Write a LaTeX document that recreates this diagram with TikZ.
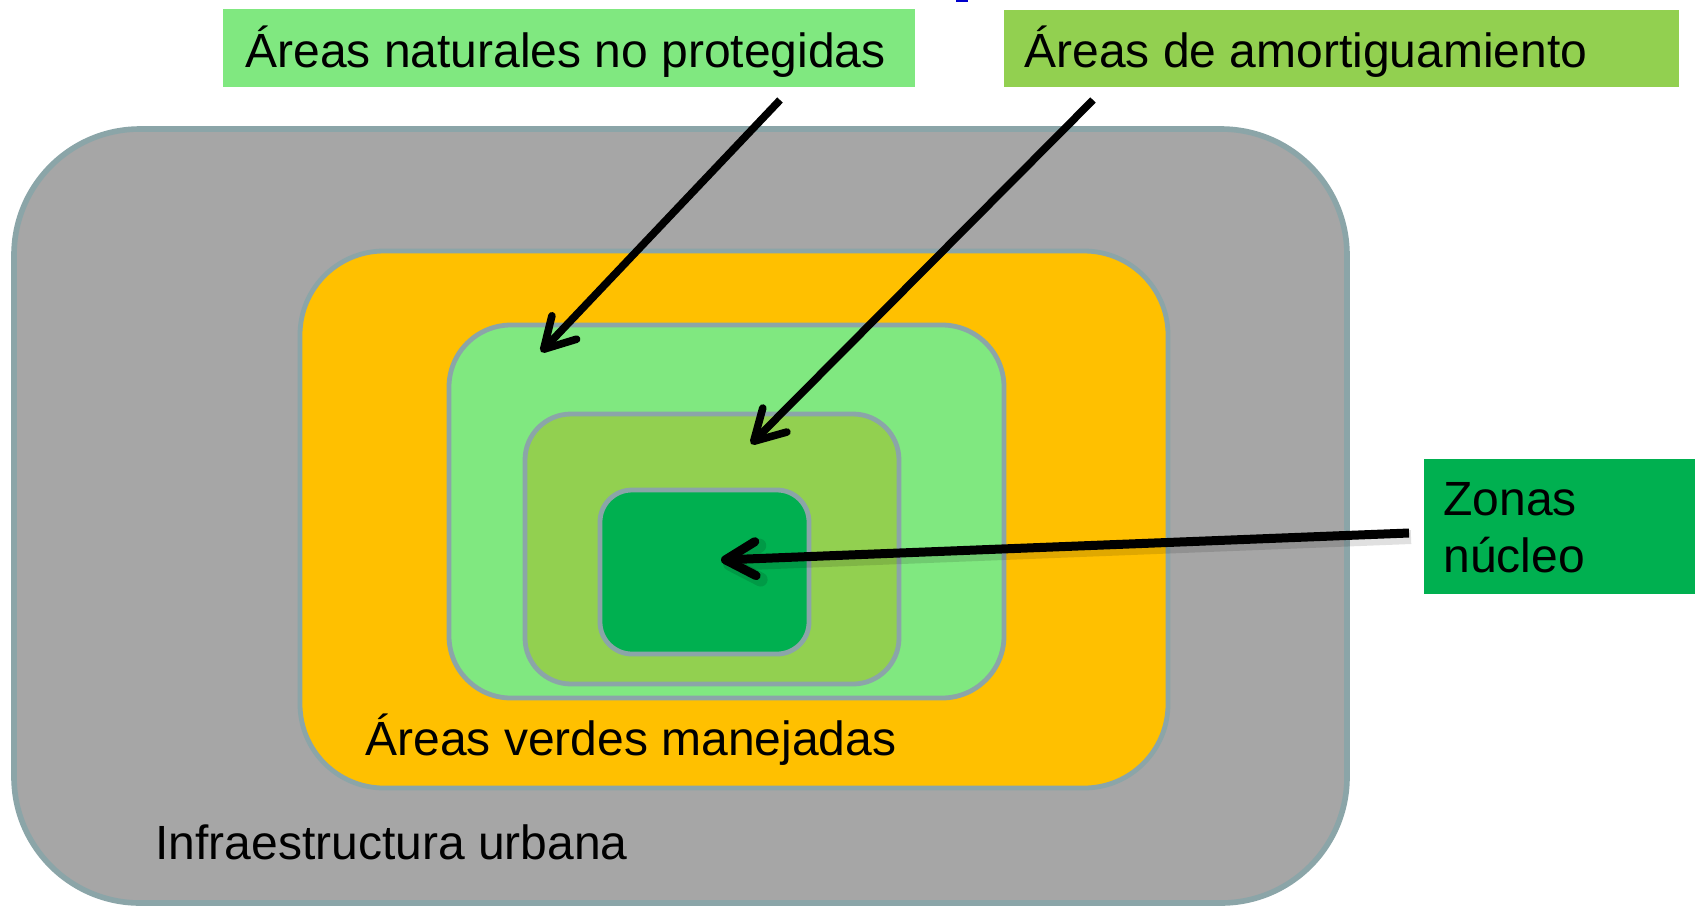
\documentclass[tikz,border=0pt]{standalone}
\usepackage{fontspec}
\setmainfont{Liberation Sans}
\usetikzlibrary{arrows.meta}
\definecolor{urbgray}{RGB}{166,166,166}
\definecolor{edgec}{RGB}{139,165,168}
\definecolor{orangez}{RGB}{255,192,0}
\definecolor{lgreen}{RGB}{128,232,128}
\definecolor{ogreen}{RGB}{146,208,80}
\definecolor{dgreen}{RGB}{0,176,80}
\definecolor{bluemark}{RGB}{0,0,204}
\begin{document}
\begin{tikzpicture}[x=0.5pt,y=-0.5pt,
 zone/.style={draw=edgec, line width=2.4pt},
 lbl/.style={anchor=base west, inner sep=0pt, font=\fontsize{24}{28}\selectfont},
 arr/.style={line width=3.8pt, -{Straight Barb[length=15pt,width=17pt,round]}}]
\useasboundingbox (0,0) rectangle (1697,907);
\fill[white] (0,0) rectangle (1697,907);
% nested zones
\draw[zone, line width=2.8pt, fill=urbgray, rounded corners=63pt] (14,129) rectangle (1347,903);
\draw[zone, fill=orangez, rounded corners=42pt] (300,251) rectangle (1168,788);
\draw[zone, fill=lgreen, rounded corners=31pt] (449,325) rectangle (1004,698);
\draw[zone, fill=ogreen, rounded corners=23pt] (525,414) rectangle (899,684);
\draw[zone, fill=dgreen, rounded corners=16pt] (600,490) rectangle (809,654);
% label boxes
\fill[lgreen] (223,9) rectangle (915,87);
\fill[ogreen] (1004,10) rectangle (1679,87);
\fill[dgreen] (1424,459) rectangle (1695,594);
\fill[bluemark] (956,0) rectangle (968,2);
% texts
\node[lbl] (lnat) at (245,67) {Áreas naturales no protegidas};
\node[lbl] (lamo) at (1024,67) {Áreas de amortiguamiento};
\node[lbl] (lzon) at (1443,515) {Zonas};
\node[lbl] (lnuc) at (1443,572) {núcleo};
\node[lbl] (lver) at (365,755) {Áreas verdes manejadas};
\node[lbl] (linf) at (155,859) {Infraestructura urbana};
% arrows
\coordinate (a1s) at (780,100); \coordinate (a1e) at (541,352);
\coordinate (a2s) at (1093,100); \coordinate (a2e) at (751,444);
\coordinate (a3s) at (1409,533); \coordinate (a3e) at (721,560);
\coordinate (a3ss) at (1411,537); \coordinate (a3es) at (723,564);
\draw[arr] (a1s) -- (a1e);
\draw[arr] (a2s) -- (a2e);
\draw[arr, line width=7pt, black, opacity=0.12] (a3ss) -- (a3es);
\draw[arr, line width=4.5pt] (a3s) -- (a3e);
\end{tikzpicture}
\end{document}
